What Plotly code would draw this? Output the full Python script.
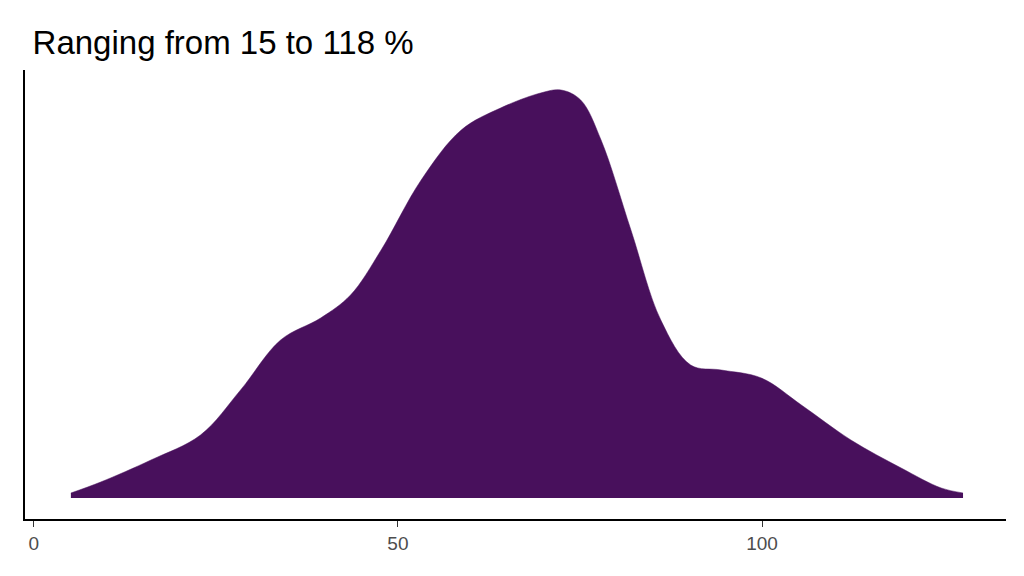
import plotly.graph_objects as go

x_vals = [5.1, 9.2, 16.1, 22.9, 28.4, 33.9, 39.4, 43.5, 47.7, 53.2, 58.7, 64.1, 69.6, 72.4, 75.1, 77.9, 82.0, 86.1, 90.2, 94.4, 99.9, 105.4, 112.2, 119.1, 124.6, 127.6]
density = [5, 16, 38, 63, 108, 158, 180, 203, 248, 318, 368, 390, 405, 408, 398, 358, 268, 178, 133, 128, 120, 93, 58, 30, 10, 5]
tick_vals = [0, 50, 100]
tick_text = ["0", "50", "100"]

fig = go.Figure(go.Scatter(
    x=x_vals, y=density, mode="lines", line=dict(shape="spline", color="#48105C", width=0.5),
    fill="tozeroy", fillcolor="#48105C", hoverinfo="skip"))

fig.update_layout(
    width=1024, height=576, plot_bgcolor="white", paper_bgcolor="white",
    margin=dict(l=17, r=26, t=62, b=65), showlegend=False,
    title=dict(text="Ranging from 15 to 118 %", x=0.024, xanchor="left", y=0.94, yanchor="middle",
               font=dict(family="Liberation Sans, Arial", size=33, color="black")),
    xaxis=dict(range=[-1.2, 133.5], tickvals=tick_vals, ticktext=tick_text, showgrid=False, zeroline=False,
               showline=True, linecolor="black", linewidth=2, ticks="outside", ticklen=6, tickcolor="#333",
               tickfont=dict(family="Liberation Sans, Arial", size=19, color="#4d4d4d")),
    yaxis=dict(range=[-21, 428], showticklabels=False, showgrid=False, zeroline=False,
               showline=True, linecolor="black", linewidth=2, ticks=""),
)
fig.write_html("out.html")
